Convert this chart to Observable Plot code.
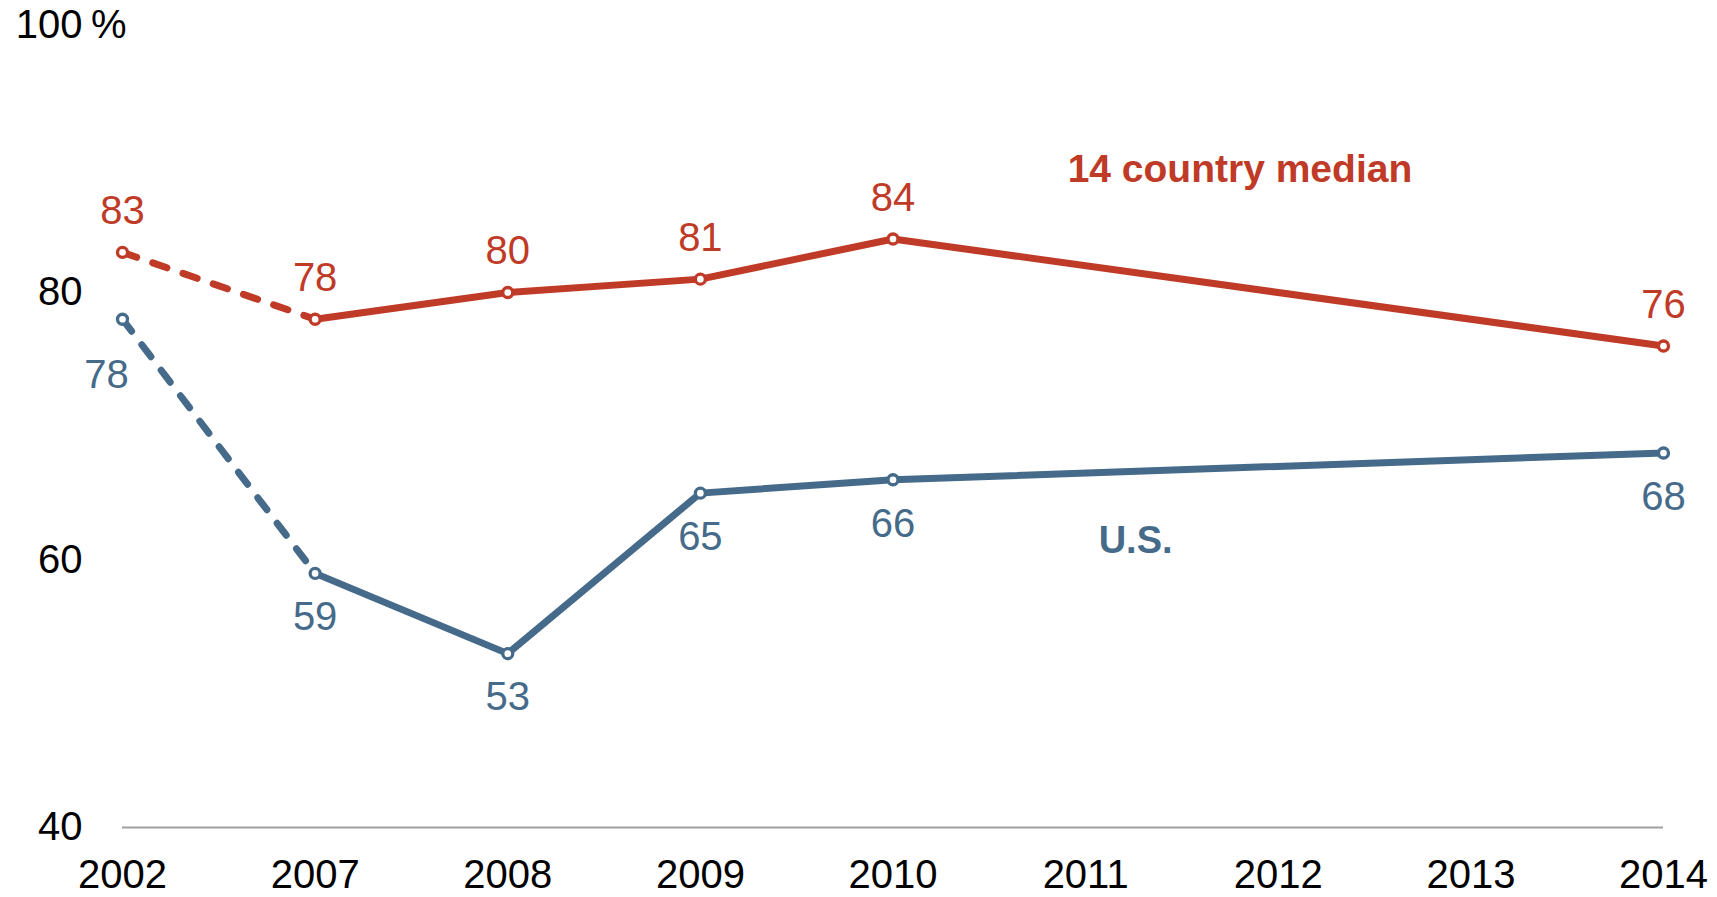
<!DOCTYPE html>
<html>
<head>
<meta charset="utf-8">
<script src="https://cdn.jsdelivr.net/npm/d3@7"></script>
<script src="https://cdn.jsdelivr.net/npm/@observablehq/plot@0.6"></script>
<style>
  html, body { margin: 0; padding: 0; background: #fff; }
  #chart svg { display: block; }
</style>
</head>
<body>
<div id="chart"></div>
<script>
// ---- data ----
const years = ["2002", "2007", "2008", "2009", "2010", "2011", "2012", "2013", "2014"];
const surveyYears = ["2002", "2007", "2008", "2009", "2010", "2014"];
const medianValues = [83, 78, 80, 81, 84, 76];
const usValues = [78, 59, 53, 65, 66, 68];
const yTicks = [40, 60, 80, 100];
const seriesNames = ["14 country median", "U.S."];
const seriesLabelPos = [{year: "2011", value: 89.2}, {year: "2011", value: 61.4}];

const RED = "#bf3a27";
const BLUE = "#456a8a";
const FONT = "'Liberation Sans', Arial, sans-serif";

const median = surveyYears.map((y, i) => ({year: y, value: medianValues[i]}));
const us = surveyYears.map((y, i) => ({year: y, value: usValues[i]}));

const lineOpts = (c) => ({x: "year", y: "value", stroke: c, strokeWidth: 7, strokeLinecap: "round", strokeLinejoin: "round"});
const dotOpts = (c) => ({x: "year", y: "value", r: 5, fill: "#fff", stroke: c, strokeWidth: 3.3});

const chart = Plot.plot({
  width: 1717,
  height: 897,
  marginLeft: 122,
  marginRight: 54,
  marginTop: 24.5,
  marginBottom: 70,
  style: {fontFamily: FONT, color: "#000", background: "#fff"},
  x: {type: "point", domain: years, padding: 0, round: false},
  y: {domain: [40, 100]},
  marks: [
    Plot.ruleY([40], {stroke: "#a0a0a0", strokeWidth: 2}),
    Plot.axisX({tickSize: 0, tickPadding: 32, fontSize: 40, fill: "#000", label: null}),
    Plot.axisY({ticks: yTicks, tickSize: 0, tickPadding: 40, fontSize: 40, fill: "#000", tickFormat: d => String(d), label: null}),
    Plot.text([{year: "2002", value: 100}], {x: "year", y: "value", text: () => "%", textAnchor: "end", dx: 4, fontSize: 40, fill: "#000"}),
    // dashed early segments
    Plot.line(median.slice(0, 2), {...lineOpts(RED), strokeDasharray: "15,17"}),
    Plot.line(us.slice(0, 2), {...lineOpts(BLUE), strokeDasharray: "15,17"}),
    // solid segments
    Plot.line(median.slice(1), lineOpts(RED)),
    Plot.line(us.slice(1), lineOpts(BLUE)),
    // markers
    Plot.dot(median, dotOpts(RED)),
    Plot.dot(us, dotOpts(BLUE)),
    // value labels
    Plot.text(median, {x: "year", y: "value", text: d => String(d.value), dy: -41, fontSize: 40, fill: RED}),
    Plot.text(us.slice(0, 1), {x: "year", y: "value", text: d => String(d.value), dy: 56, dx: -16, fontSize: 40, fill: BLUE}),
    Plot.text(us.slice(1), {x: "year", y: "value", text: d => String(d.value), dy: 44, fontSize: 40, fill: BLUE}),
    // series labels
    Plot.text([seriesLabelPos[0]], {x: "year", y: "value", text: () => seriesNames[0], textAnchor: "start", dx: -18, fontSize: 39, fontWeight: "bold", fill: RED}),
    Plot.text([seriesLabelPos[1]], {x: "year", y: "value", text: () => seriesNames[1], textAnchor: "start", dx: 13, fontSize: 38, fontWeight: "bold", fill: BLUE})
  ]
});
document.getElementById("chart").appendChild(chart);
</script>
</body>
</html>
